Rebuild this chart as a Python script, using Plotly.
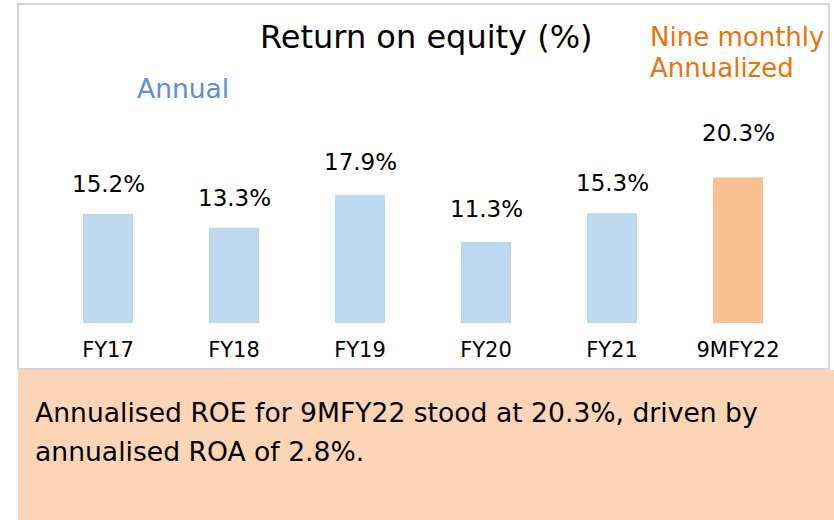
import plotly.graph_objects as go

categories = ["FY17", "FY18", "FY19", "FY20", "FY21", "9MFY22"]
roe_values = [15.2, 13.3, 17.9, 11.3, 15.3, 20.3]
value_labels = ["15.2%", "13.3%", "17.9%", "11.3%", "15.3%", "20.3%"]
bar_colors = ["#BDD7EE", "#BDD7EE", "#BDD7EE", "#BDD7EE", "#BDD7EE", "#F9C191"]
label_yshift = [15, 15, 18, 18, 15, 29]  # pixel offsets of value labels (style)

title_text = "Return on equity (%)"
annual_text = "Annual"
nine_line1 = "Nine monthly"
nine_line2 = "Annualized"
note_line1 = "Annualised ROE for 9MFY22 stood at 20.3%, driven by"
note_line2 = "annualised ROA of 2.8%."

W, H = 834, 520
FONT = "DejaVu Sans"


def px(x):
    return x / W


def py(y):
    return 1 - y / H


fig = go.Figure()
fig.add_trace(go.Bar(
    x=categories, y=roe_values,
    marker=dict(color=bar_colors, line=dict(width=0)),
    hoverinfo="skip",
))

# value labels above bars, positioned through the data axes
for c, v, t, s in zip(categories, roe_values, value_labels, label_yshift):
    fig.add_annotation(x=c, y=v, xref="x", yref="y", text=t, showarrow=False,
                       yanchor="bottom", yshift=s,
                       font=dict(family=FONT, size=23, color="#000000"))

bottom_px, top_px = 323, 113
scale = 7.17
fig.update_layout(
    width=W, height=H,
    margin=dict(l=0, r=0, t=0, b=0),
    paper_bgcolor="white", plot_bgcolor="white",
    showlegend=False,
    bargap=0.603,
    xaxis=dict(domain=[px(45), px(801)], range=[-0.5, 5.5], showgrid=False,
               zeroline=False, showline=False, ticks="outside", ticklen=8,
               tickcolor="rgba(0,0,0,0)",
               tickfont=dict(family=FONT, size=21, color="#000000")),
    yaxis=dict(domain=[py(bottom_px), py(top_px)],
               range=[0, (bottom_px - top_px) / scale],
               visible=False, showgrid=False, zeroline=False),
    shapes=[
        dict(type="rect", xref="paper", yref="paper",
             x0=px(18), x1=px(829), y0=py(369), y1=py(4),
             line=dict(color="#C9C9C9", width=1.5), fillcolor="rgba(0,0,0,0)",
             layer="below"),
        dict(type="rect", xref="paper", yref="paper",
             x0=px(18), x1=px(834), y0=py(520), y1=py(370),
             line=dict(width=0), fillcolor="#FBD5B5", layer="below"),
    ],
)

fig.add_annotation(x=px(426), y=py(37), xref="paper", yref="paper",
                   text=title_text, showarrow=False, xanchor="center", yanchor="middle",
                   font=dict(family=FONT, size=32, color="#000000"))
fig.add_annotation(x=px(183), y=py(88), xref="paper", yref="paper",
                   text=annual_text, showarrow=False, xanchor="center", yanchor="middle",
                   font=dict(family=FONT, size=26.5, color="#5B8FD6"))
fig.add_annotation(x=px(648), y=py(37), xref="paper", yref="paper",
                   text=nine_line1, showarrow=False, xanchor="left", yanchor="middle",
                   font=dict(family=FONT, size=26, color="#E8730F"))
fig.add_annotation(x=px(648), y=py(68), xref="paper", yref="paper",
                   text=nine_line2, showarrow=False, xanchor="left", yanchor="middle",
                   font=dict(family=FONT, size=26, color="#E8730F"))
fig.add_annotation(x=px(33), y=py(412), xref="paper", yref="paper",
                   text=note_line1, showarrow=False, xanchor="left", yanchor="middle",
                   font=dict(family=FONT, size=26.6, color="#000000"))
fig.add_annotation(x=px(33), y=py(451), xref="paper", yref="paper",
                   text=note_line2, showarrow=False, xanchor="left", yanchor="middle",
                   font=dict(family=FONT, size=26.6, color="#000000"))

fig.write_html("out.html",
               config={"displayModeBar": False},
               post_script="document.body.style.margin='0';document.body.style.overflow='hidden';")
